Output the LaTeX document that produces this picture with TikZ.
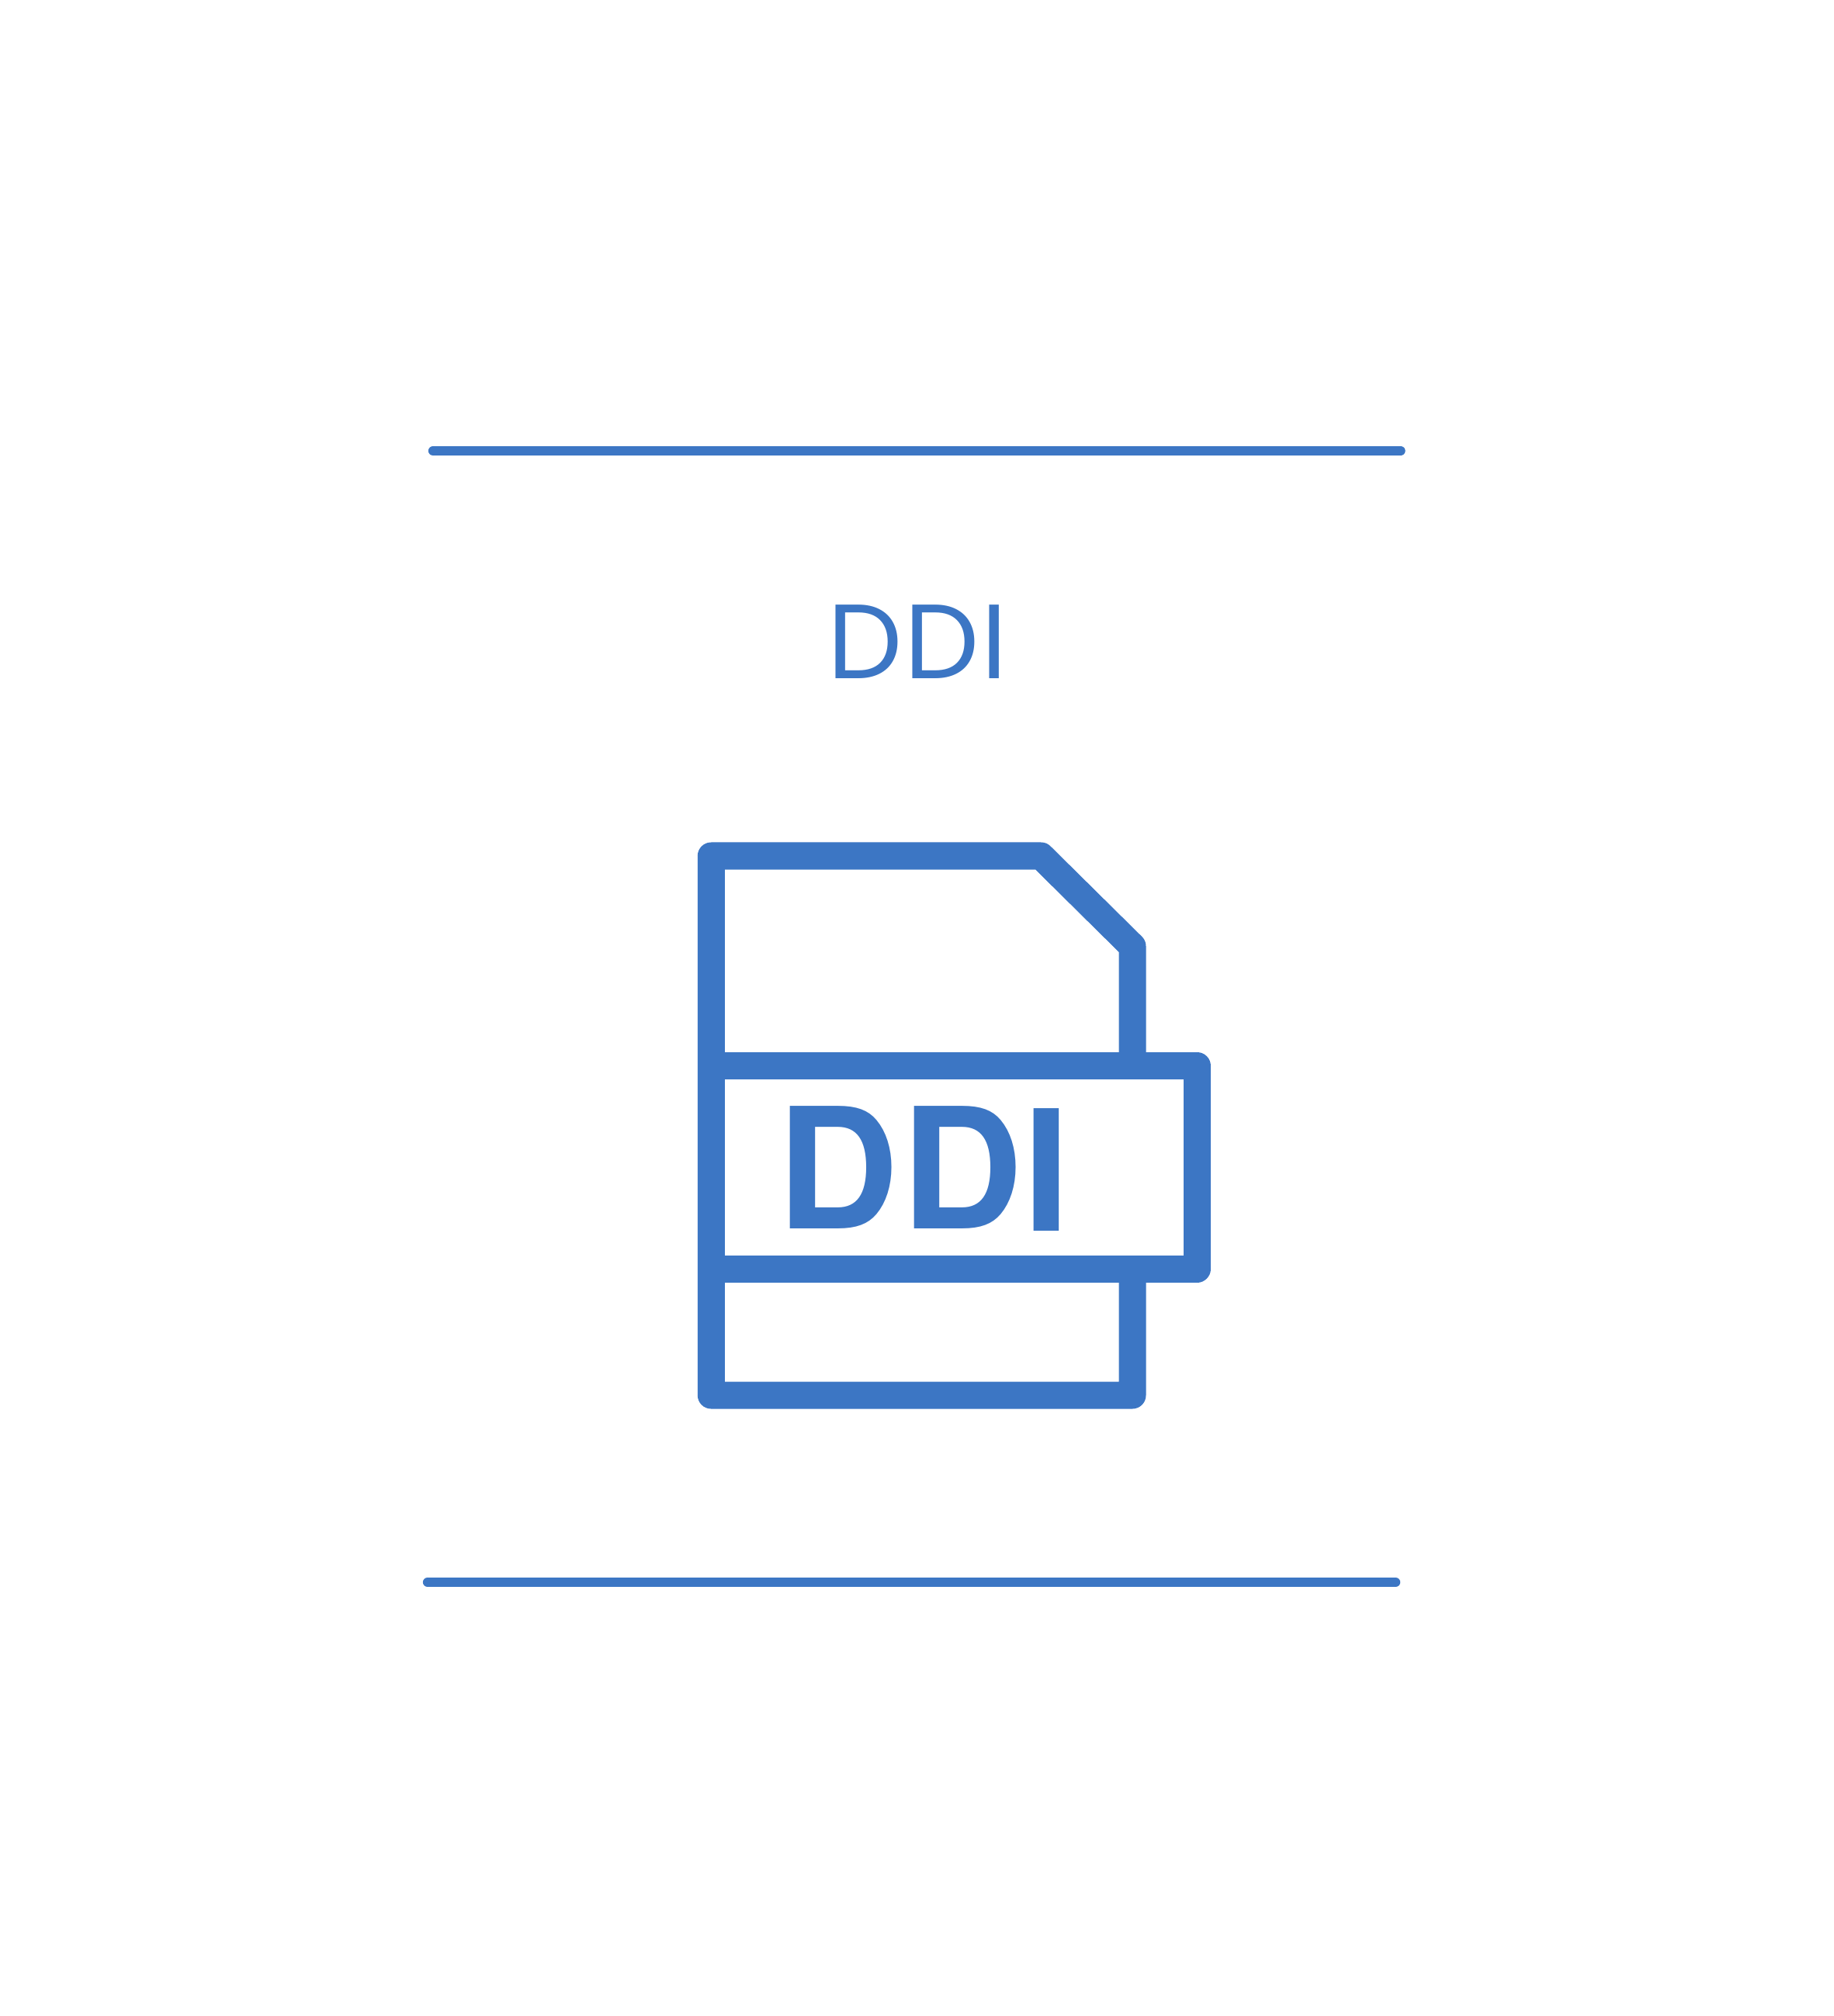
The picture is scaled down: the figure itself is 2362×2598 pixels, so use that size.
\documentclass[tikz,border=0pt]{standalone}
\usepackage{fontspec}
\setmainfont{TeX Gyre Heros}
\newfontfamily\titlefont{Poppins}
\usepackage{tikz}
\definecolor{ddiblue}{HTML}{3C76C4}

\begin{document}
\begin{tikzpicture}[x=0.01cm,y=-0.01cm]
\tikzstyle{rule}=[line width=3.5pt, draw=ddiblue, line cap=round]
\tikzstyle{outline}=[line width=9.96pt, draw=ddiblue, line join=round]
\tikzstyle{title}=[inner sep=0pt, text=ddiblue, font=\titlefont\fontsize{38.7pt}{38.7pt}\selectfont\addfontfeature{LetterSpace=2}]
\tikzstyle{tabtext}=[inner sep=0pt, text=ddiblue, font=\bfseries\fontsize{61.6pt}{61.6pt}\selectfont\addfontfeature{LetterSpace=1.9}]
\useasboundingbox (0,0) rectangle (2362,2598);
	\coordinate (top_l) at (558,581);
	\coordinate (top_r) at (1804.5,581);
	\coordinate (bot_l) at (551,2039);
	\coordinate (bot_r) at (1798,2039);
	\node[title, anchor=base west] (title) at (1066,874) {DDI};
	\draw[outline] (916.3,1103) -- (1341.2,1103) -- (1459,1219.5) -- (1459,1798) -- (916.3,1798) -- cycle;
	\draw[outline, fill=white] (916.3,1373.7) rectangle (1542.5,1635);
	\node[tabtext, anchor=base west] (tab) at (1000.7,1583) {DD\raisebox{-1.05pt}{I}};
	\path[rule]
		(top_l) edge [] (top_r)
		(bot_l) edge [] (bot_r);
\end{tikzpicture}
\end{document}
